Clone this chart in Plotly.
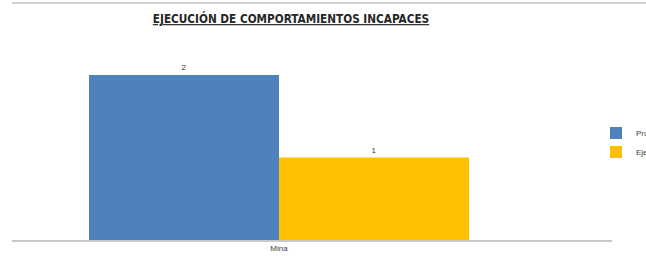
import plotly.graph_objects as go

categories = ["Mina"]
series_names = ["Programado", "Ejecutado"]
programado = [2]
ejecutado = [1]
colors = ["#4F81BD", "#FFC000"]
title_text = "EJECUCIÓN DE COMPORTAMIENTOS INCAPACES"

W, H = 646, 257
ml, mr, mt, mb = 12, 34, 42, 17
pw, ph = W - ml - mr, H - mt - mb

fig = go.Figure()
for name, vals, col in zip(series_names, [programado, ejecutado], colors):
    fig.add_trace(go.Bar(
        x=categories, y=vals, name=name,
        marker=dict(color=col, line=dict(width=0)),
        text=[str(v) for v in vals], textposition="outside",
        textfont=dict(size=8, color="#333333", family="Liberation Sans"),
        cliponaxis=False,
    ))

fig.update_layout(
    width=W, height=H,
    margin=dict(l=ml, r=mr, t=mt, b=mb, autoexpand=False),
    paper_bgcolor="white", plot_bgcolor="white",
    barmode="group", bargap=0.2, bargroupgap=0,
    title=dict(
        text="<b>" + title_text + "</b>",
        font=dict(family="DejaVu Sans Condensed, Liberation Sans Narrow, Liberation Sans", size=11.7,
                  color="#262626", lineposition="under"),
        x=291 / W, xanchor="center", xref="container",
        y=1 - 19 / H, yanchor="middle", yref="container",
    ),
    xaxis=dict(
        range=[-267 / 475, 333 / 475],
        showline=True, linecolor="#C8C8C8", linewidth=1.5,
        showgrid=False, zeroline=False, ticks="",
        tickfont=dict(size=8, color="#404040", family="Liberation Sans"),
    ),
    yaxis=dict(range=[0, 2.4], visible=False, showgrid=False, zeroline=False),
    legend=dict(
        x=(596 - ml) / pw, xanchor="left",
        y=(H - mb - 142.5) / ph, yanchor="middle",
        font=dict(size=8, color="#404040", family="Liberation Sans"),
        bgcolor="rgba(0,0,0,0)", itemwidth=30,
    ),
    showlegend=True,
    shapes=[dict(type="line", xref="paper", yref="paper",
                 x0=0, x1=(W - ml) / pw,
                 y0=(H - mb - 3) / ph, y1=(H - mb - 3) / ph,
                 line=dict(color="#D0D0D0", width=2))],
)

fig.write_html("out.html", config={"displayModeBar": False},
               post_script="document.body.style.margin='0';document.body.style.overflow='hidden';")
